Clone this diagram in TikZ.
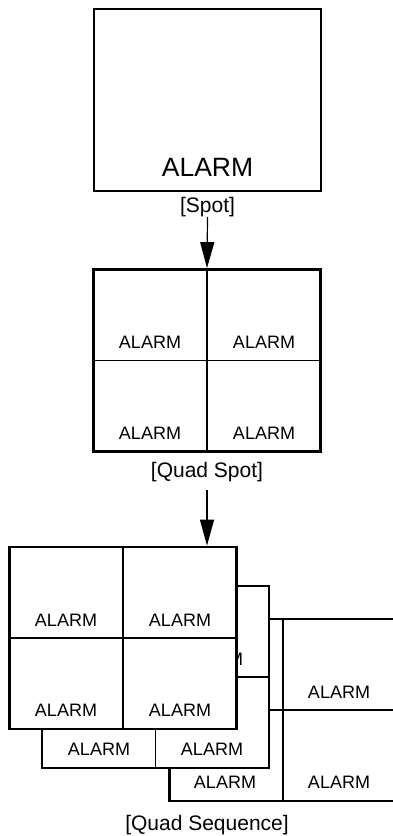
\documentclass[tikz,border=0pt]{standalone}
\usepackage{fontspec}
\setmainfont{Liberation Sans}
\usetikzlibrary{arrows.meta,positioning}

\tikzset{
  screen/.style={rectangle, draw=black, fill=white, line width=2.7pt,
                 minimum width=227pt, minimum height=182pt, inner sep=0pt},
  divider/.style={line width=1.2pt},
  alarm/.style={inner sep=0pt, font=\fontsize{18}{20}\selectfont},
  bigalarm/.style={inner sep=0pt, font=\fontsize{26.5}{30}\selectfont},
  caption/.style={inner sep=0pt, font=\fontsize{21}{24}\selectfont},
  flow/.style={line width=1.2pt, -{Triangle[length=26pt,width=14pt]}}
}

\begin{document}
\begin{tikzpicture}[x=1pt, y=-1pt]
\useasboundingbox (0,0) rectangle (392,836);

% spot
\node[screen] (spot) at (207.5,100) {};
\node[bigalarm] (spotalarm) at (207.5,167) {ALARM};
\node[caption] (spotlbl) at (207.5,207) {[Spot]};

% quad spot
\node[screen] (quad) at (207,360.5) {};
\draw[divider] (quad.north) -- (quad.south);
\draw[divider] (quad.west) -- (quad.east);
\node[alarm] (quadtl) at (150,342) {ALARM};
\node[alarm] (quadtr) at (264,342) {ALARM};
\node[alarm] (quadbl) at (150,433) {ALARM};
\node[alarm] (quadbr) at (264,433) {ALARM};
\node[caption] (quadlbl) at (207,472) {[Quad Spot]};

% quad sequence, back to front
\node[screen] (seqc) at (283,710) {};
\draw[divider] (seqc.north) -- (seqc.south);
\draw[divider] (seqc.west) -- (seqc.east);
\node[alarm] (seqctr) at (339,692) {ALARM};
\node[alarm] (seqcbl) at (225,782) {ALARM};
\node[alarm] (seqcbr) at (339,782) {ALARM};

\node[screen] (seqb) at (155.5,677) {};
\draw[divider] (seqb.north) -- (seqb.south);
\draw[divider] (seqb.west) -- (seqb.east);
\node[alarm] (seqbtr) at (212,659) {ALARM};
\node[alarm] (seqbbl) at (99,749) {ALARM};
\node[alarm] (seqbbr) at (212,749) {ALARM};

\node[screen] (seqa) at (123,638) {};
\draw[divider] (seqa.north) -- (seqa.south);
\draw[divider] (seqa.west) -- (seqa.east);
\node[alarm] (seqatl) at (66,620) {ALARM};
\node[alarm] (seqatr) at (180,620) {ALARM};
\node[alarm] (seqabl) at (66,710) {ALARM};
\node[alarm] (seqabr) at (180,710) {ALARM};
\node[caption] (seqlbl) at (207,825) {[Quad Sequence]};

% arrows
\draw[flow] (spotlbl.south) -- (quad.north);
\draw[flow, shorten <=8pt] (quadlbl.south) -- (quadlbl.south |- seqa.north);
\end{tikzpicture}
\end{document}
